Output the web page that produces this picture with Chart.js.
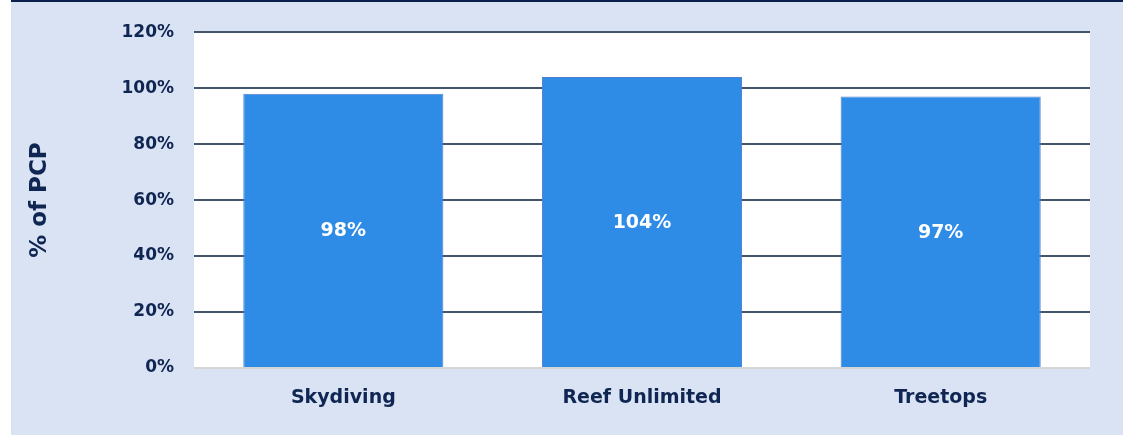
<!DOCTYPE html>
<html>
<head>
<meta charset="utf-8">
<script src="https://cdn.jsdelivr.net/npm/chart.js@4"></script>
<style>
  html, body { margin: 0; padding: 0; background: #ffffff; }
  #wrap {
    position: absolute; left: 11px; top: 0;
    width: 1112px; height: 433px;
    background: #dae3f3;
    border-top: 2px solid #0b1f4b;
  }
  canvas { display: block; }
</style>
</head>
<body>
<div id="wrap"><canvas id="pcpChart" width="1112" height="433"></canvas></div>
<script>
const categories = ["Skydiving", "Reef Unlimited", "Treetops"];
const pcpValues = [98, 104, 97];
const yTicks = [0, 20, 40, 60, 80, 100, 120];

const navy = "#0f2552";
const fontFamily = "'DejaVu Sans', sans-serif";

// white plot background
const plotBackground = {
  id: "plotBackground",
  beforeDraw(chart) {
    const { ctx, chartArea } = chart;
    ctx.save();
    ctx.fillStyle = "#ffffff";
    ctx.fillRect(chartArea.left, chartArea.top, chartArea.width, chartArea.height);
    ctx.restore();
  }
};

// white value labels in the middle of each bar
const barLabels = {
  id: "barLabels",
  afterDatasetsDraw(chart) {
    const ctx = chart.ctx;
    const meta = chart.getDatasetMeta(0);
    ctx.save();
    ctx.fillStyle = "#ffffff";
    ctx.font = "bold 19px " + fontFamily;
    ctx.textAlign = "center";
    ctx.textBaseline = "middle";
    meta.data.forEach((bar, i) => {
      const mid = (bar.y + bar.base) / 2;
      ctx.fillText(pcpValues[i] + "%", bar.x, mid + 1);
    });
    ctx.restore();
  }
};

const pcpChart = new Chart(document.getElementById("pcpChart"), {
  type: "bar",
  data: {
    labels: categories,
    datasets: [
      {
        label: "% of PCP",
        data: pcpValues,
        backgroundColor: "#2e8be6",
        borderColor: "#4f7fd0",
        borderWidth: 1,
        barPercentage: 0.67,
        categoryPercentage: 1,
      },
    ],
  },
  options: {
    responsive: false,
    animation: false,
    layout: { padding: { top: 28, right: 33, left: 0, bottom: 0 } },
    plugins: {
      legend: { display: false },
      tooltip: { enabled: false },
    },
    scales: {
      x: {
        grid: { display: false },
        border: { display: false },
        ticks: {
          color: navy,
          padding: 11,
          font: { family: fontFamily, size: 19, weight: "bold" },
        },
        afterFit(scale) { scale.height = 67; },
      },
      y: {
        min: 0,
        max: 120,
        afterBuildTicks(scale) {
          scale.ticks = yTicks.map(v => ({ value: v }));
        },
        grid: {
          drawTicks: false,
          lineWidth: 2,
          color: ctx => (ctx.tick && ctx.tick.value === 0 ? "#d6d6d6" : "#44546a"),
        },
        border: { display: false },
        ticks: {
          color: navy,
          padding: 20,
          font: { family: fontFamily, size: 17, weight: "bold" },
          callback: v => v + "%",
        },
        title: {
          display: true,
          text: "% of PCP",
          color: navy,
          padding: { top: 15, bottom: 0 },
          font: { family: fontFamily, size: 23, weight: "bold" },
        },
        afterFit(scale) { scale.width = 183; },
      },
    },
  },
  plugins: [plotBackground, barLabels],
});
</script>
</body>
</html>
